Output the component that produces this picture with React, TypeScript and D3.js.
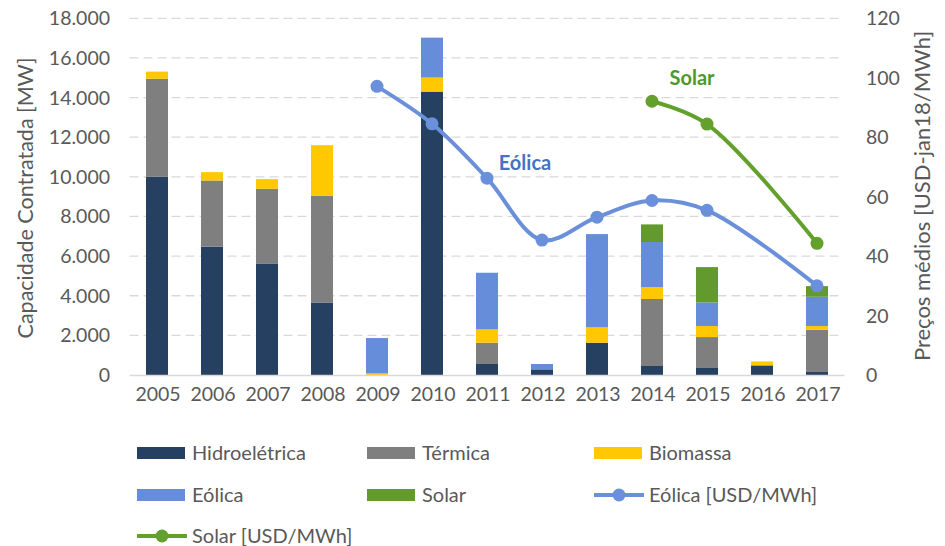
import * as d3 from "d3";
import { useEffect, useRef } from "react";

const years = ["2005", "2006", "2007", "2008", "2009", "2010", "2011", "2012", "2013", "2014", "2015", "2016", "2017"];

// capacity contracted per source [MW]
const hidro = [10000, 6470, 5630, 3660, 0, 14300, 555, 285, 1630, 455, 385, 485, 150];
const termica = [4950, 3345, 3765, 5380, 0, 0, 1075, 0, 0, 3380, 1530, 0, 2135];
const biomassa = [360, 420, 490, 2555, 80, 710, 670, 0, 775, 605, 555, 200, 185];
const eolica = [0, 0, 0, 0, 1785, 2015, 2860, 270, 4705, 2270, 1195, 0, 1480];
const solar = [0, 0, 0, 0, 0, 0, 0, 0, 0, 890, 1780, 0, 535];

// average prices [USD-jan18/MWh]
const precoEolica: (number | null)[] = [null, null, null, null, 97.1, 84.5, 66.2, 45.4, 53.1, 58.7, 55.4, null, 30.0];
const precoSolar: (number | null)[] = [null, null, null, null, null, null, null, null, null, 92.1, 84.4, null, 44.3];

const leftTicks = [0, 2000, 4000, 6000, 8000, 10000, 12000, 14000, 16000, 18000];
const rightTicks = [0, 20, 40, 60, 80, 100, 120];

const stackKeys = ["Hidroelétrica", "Térmica", "Biomassa", "Eólica", "Solar"];
const stackColors = ["#264061", "#7f7f7f", "#ffc800", "#668dd9", "#639a2e"];
const lineBlue = "#6a8fdb";
const lineGreen = "#63a02c";

export default function App() {
  const ref = useRef<SVGSVGElement | null>(null);

  useEffect(() => {
    if (!ref.current) return;
    const width = 945;
    const height = 546;
    const svg = d3.select(ref.current);
    svg.selectAll("*").remove();
    svg.attr("viewBox", `0 0 ${width} ${height}`);

    const font = "Lato, 'Open Sans', sans-serif";
    const textColor = "#595959";
    const left = 129.5;
    const right = 844.5;
    const top = 18.3;
    const bottom = 375;

    const x = d3.scaleBand().domain(years).range([left, right]).paddingInner(0.6).paddingOuter(0.3);
    const y = d3.scaleLinear().domain([0, 18000]).range([bottom, top]);
    const y2 = d3.scaleLinear().domain([0, 120]).range([bottom, top]);

    // grid
    leftTicks.slice(1).forEach((t) => {
      svg
        .append("line")
        .attr("x1", left)
        .attr("x2", right - 6)
        .attr("y1", y(t))
        .attr("y2", y(t))
        .attr("stroke", "#d9d9d9")
        .attr("stroke-width", 1.3)
        .attr("stroke-dasharray", "9,5");
    });

    // stacked bars
    const rows = years.map((yr, i) => ({
      year: yr,
      "Hidroelétrica": hidro[i],
      "Térmica": termica[i],
      "Biomassa": biomassa[i],
      "Eólica": eolica[i],
      "Solar": solar[i]
    }));
    const stack = d3.stack<any>().keys(stackKeys)(rows);
    stack.forEach((layer, li) => {
      svg
        .append("g")
        .selectAll("rect")
        .data(layer.filter((d) => d[1] - d[0] > 0))
        .join("rect")
        .attr("x", (d) => x(d.data.year)!)
        .attr("width", x.bandwidth())
        .attr("y", (d) => y(d[1]))
        .attr("height", (d) => y(d[0]) - y(d[1]))
        .attr("fill", stackColors[li]);
    });

    // baseline
    svg
      .append("line")
      .attr("x1", left)
      .attr("x2", right)
      .attr("y1", bottom + 0.5)
      .attr("y2", bottom + 0.5)
      .attr("stroke", "#d9d9d9")
      .attr("stroke-width", 1.3);

    // price lines
    const drawLine = (vals: (number | null)[], color: string) => {
      const pts = years
        .map((yr, i) => ({ yr, v: vals[i] }))
        .filter((d) => d.v !== null) as { yr: string; v: number }[];
      const line = d3
        .line<{ yr: string; v: number }>()
        .x((d) => x(d.yr)! + x.bandwidth() / 2)
        .y((d) => y2(d.v))
        .curve(d3.curveCatmullRom.alpha(0.5));
      svg
        .append("path")
        .attr("d", line(pts))
        .attr("fill", "none")
        .attr("stroke", color)
        .attr("stroke-width", 4)
        .attr("stroke-linecap", "round");
      svg
        .append("g")
        .selectAll("circle")
        .data(pts)
        .join("circle")
        .attr("cx", (d) => x(d.yr)! + x.bandwidth() / 2)
        .attr("cy", (d) => y2(d.v))
        .attr("r", 6.5)
        .attr("fill", color);
    };
    drawLine(precoEolica, lineBlue);
    drawLine(precoSolar, lineGreen);

    svg
      .append("text")
      .attr("x", 525)
      .attr("y", 170)
      .attr("text-anchor", "middle")
      .attr("font-family", font)
      .attr("font-weight", "bold")
      .attr("font-size", 20)
      .attr("fill", "#4472c4")
      .text("Eólica");
    svg
      .append("text")
      .attr("x", 692)
      .attr("y", 85)
      .attr("text-anchor", "middle")
      .attr("font-family", font)
      .attr("font-weight", "bold")
      .attr("font-size", 20)
      .attr("fill", "#4b9a2a")
      .text("Solar");

    // axis labels
    const fmt = (v: number) => (v === 0 ? "0" : d3.format(",")(v).replace(",", "."));
    leftTicks.forEach((t) => {
      svg
        .append("text")
        .attr("x", 110)
        .attr("y", y(t))
        .attr("dy", "0.36em")
        .attr("text-anchor", "end")
        .attr("font-family", font)
        .attr("font-size", 19.5)
        .attr("fill", textColor)
        .text(fmt(t));
    });
    rightTicks.forEach((t) => {
      svg
        .append("text")
        .attr("x", 866)
        .attr("y", y2(t))
        .attr("dy", "0.36em")
        .attr("text-anchor", "start")
        .attr("font-family", font)
        .attr("font-size", 19.5)
        .attr("fill", textColor)
        .text(String(t));
    });
    years.forEach((yr) => {
      svg
        .append("text")
        .attr("x", x(yr)! + x.bandwidth() / 2 + 1)
        .attr("y", 401)
        .attr("text-anchor", "middle")
        .attr("font-family", font)
        .attr("font-size", 19.5)
        .attr("fill", textColor)
        .text(yr);
    });

    svg
      .append("text")
      .attr("transform", `translate(33, 198) rotate(-90)`)
      .attr("text-anchor", "middle")
      .attr("font-family", font)
      .attr("font-size", 21.5)
      .attr("fill", textColor)
      .text("Capacidade Contratada [MW]");
    svg
      .append("text")
      .attr("transform", `translate(930, 196) rotate(-90)`)
      .attr("text-anchor", "middle")
      .attr("font-family", font)
      .attr("font-size", 22)
      .attr("fill", textColor)
      .text("Preços médios [USD-jan18/MWh]");

    // legend
    const legendItems = [
      { label: "Hidroelétrica", color: stackColors[0], kind: "box", col: 0, row: 0 },
      { label: "Térmica", color: stackColors[1], kind: "box", col: 1, row: 0 },
      { label: "Biomassa", color: stackColors[2], kind: "box", col: 2, row: 0 },
      { label: "Eólica", color: stackColors[3], kind: "box", col: 0, row: 1 },
      { label: "Solar", color: stackColors[4], kind: "box", col: 1, row: 1 },
      { label: "Eólica [USD/MWh]", color: lineBlue, kind: "line", col: 2, row: 1 },
      { label: "Solar [USD/MWh]", color: lineGreen, kind: "line", col: 0, row: 2 }
    ];
    const colX = [137, 367, 594];
    const rowY = [453, 495, 536];
    legendItems.forEach((item) => {
      const lx = colX[item.col];
      const ly = rowY[item.row];
      if (item.kind === "box") {
        svg.append("rect").attr("x", lx).attr("y", ly - 6).attr("width", 48).attr("height", 12).attr("fill", item.color);
      } else {
        svg
          .append("line")
          .attr("x1", lx)
          .attr("x2", lx + 50)
          .attr("y1", ly)
          .attr("y2", ly)
          .attr("stroke", item.color)
          .attr("stroke-width", 4);
        svg.append("circle").attr("cx", lx + 25).attr("cy", ly).attr("r", 6.5).attr("fill", item.color);
      }
      svg
        .append("text")
        .attr("x", lx + 55)
        .attr("y", ly)
        .attr("dy", "0.36em")
        .attr("font-family", font)
        .attr("font-size", 20)
        .attr("fill", textColor)
        .text(item.label);
    });
  }, []);

  return (
    <svg
      ref={ref}
      width={945}
      height={546}
      style={{ position: "absolute", left: 0, top: 0, display: "block", background: "#fff" }}
      aria-label="capacidade contratada e preços médios"
    />
  );
}
